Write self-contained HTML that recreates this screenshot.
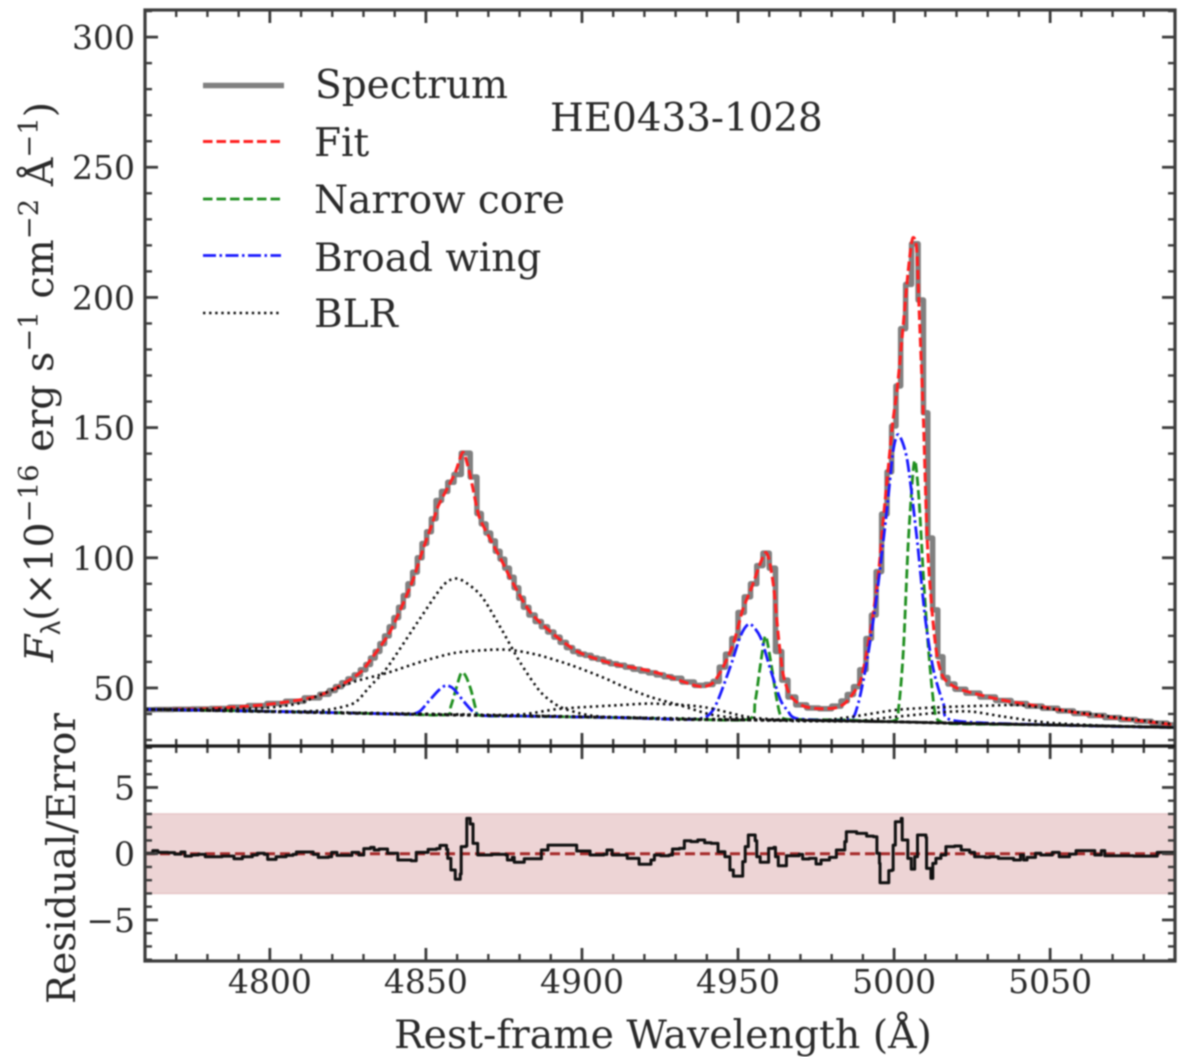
<!DOCTYPE html>
<html>
<head>
<meta charset="utf-8">
<title>HE0433-1028 spectrum</title>
<style>
html,body{margin:0;padding:0;background:#fff;}
svg{display:block;filter:blur(0.75px);}
text{font-family:"DejaVu Serif","Liberation Serif",serif;fill:#2a2a2a;}
</style>
</head>
<body>
<svg id="chart" xmlns="http://www.w3.org/2000/svg" width="1200" height="1057" viewBox="0 0 1200 1057">
  <defs>
    <clipPath id="clip-top"><rect x="145" y="10" width="1030" height="736"/></clipPath>
    <clipPath id="clip-bottom"><rect x="145" y="746" width="1030" height="215"/></clipPath>
  </defs>
  <rect x="0" y="0" width="1200" height="1057" fill="#fff"/>
  <rect id="band" fill="#edd4d5" stroke="#e6c6c7" stroke-width="1.5"/>
  <line id="zero-line" stroke="#a52a2a" stroke-width="3" stroke-dasharray="10 5"/>
  <g id="top-series" clip-path="url(#clip-top)"></g>
  <g id="bottom-series" clip-path="url(#clip-bottom)"></g>
  <g id="axes"></g>

  <g>
    <line x1="203" y1="85.500" x2="284" y2="85.500" stroke="#808080" stroke-width="5.500"/>
    <line x1="203" y1="141.500" x2="281" y2="141.500" stroke="#ff2020" stroke-width="3" stroke-dasharray="9.500 4"/>
    <line x1="203" y1="199" x2="281" y2="199" stroke="#1f8f1f" stroke-width="2.800" stroke-dasharray="9.500 4"/>
    <line x1="203" y1="255.500" x2="281" y2="255.500" stroke="#1a1aff" stroke-width="2.800" stroke-dasharray="13 3.500 2.500 3.500"/>
    <line x1="203" y1="313" x2="281" y2="313" stroke="#111" stroke-width="2.600" stroke-dasharray="2.400 3.700"/>
    <text x="315" y="98" font-size="39">Spectrum</text>
    <text x="314" y="156" font-size="39">Fit</text>
    <text x="314" y="213" font-size="39">Narrow core</text>
    <text x="314" y="271" font-size="39">Broad wing</text>
    <text x="314" y="327" font-size="39">BLR</text>
  </g>
  <text x="550" y="131" font-size="38.800">HE0433-1028</text>
  <text x="394" y="1048" font-size="39.400">Rest-frame Wavelength (Å)</text>
  <text transform="translate(75,1004) rotate(-90)" font-size="38.900">Residual/Error</text>
  <text transform="translate(53,662) rotate(-90)" font-size="39.400"><tspan font-style="italic">F</tspan><tspan font-size="27.500" dy="7" font-family="Liberation Sans, sans-serif">λ</tspan><tspan dy="-7">(×10</tspan><tspan font-size="27.500" dy="-15">−16</tspan><tspan dy="15"> erg s</tspan><tspan font-size="27.500" dy="-15">−1</tspan><tspan dy="15"> cm</tspan><tspan font-size="27.500" dy="-15">−2</tspan><tspan dy="15"> Å</tspan><tspan font-size="27.500" dy="-15">−1</tspan><tspan dy="15">)</tspan></text>
</svg>

<script>
// ---- Data ----
const xTicks = [4800, 4850, 4900, 4950, 5000, 5050];
const fluxTicks = [50, 100, 150, 200, 250, 300];
const residualTicks = [-5, 0, 5];

const spectrumWave = [
  4760,4766,4772,4778,4784,4790,4796,4802,4808,4814,
  4818,4820,4822,4824,4826,4828,4830,4831.5,4833,4834.5,
  4836,4837.5,4839,4840.5,4842,4843.5,4845,4846.5,4848,4849.5,
  4851,4852.5,4854,4856,4858,4860,4862.7,4865.7,4867,4868.5,
  4870,4871.5,4873,4874.5,4876,4877.5,4879,4880.5,4882,4884,
  4886,4888,4890,4892,4894,4896,4898,4900,4902,4904,
  4906,4908,4910,4912.5,4915,4917.5,4920,4922.5,4925,4927.5,
  4930,4934,4938,4941,4943,4945,4947,4949,4951,4953,
  4955,4957,4959,4961,4963,4965,4967,4970,4974,4978,
  4982,4984,4986,4988,4990,4992,4993.5,4995,4997,4998.5,
  4999.9,5001.3,5002.9,5004.5,5006.7,5008.7,5010.1,5011.5,5013.2,5014.8,
  5016.5,5018,5021,5025,5030,5035,5040,5045,5050,5055,
  5060,5065,5070,5075,5080,5085,5090
];
const spectrumFlux = [
  41.6,41.7,41.8,41.9,42.1,42.6,43.2,44,44.9,46.2,
  47.6,49,50.5,52,53.5,55,57,59,61.5,64,
  67,70,73.5,77,81,85.5,90,94.5,100,105.5,
  110,115,122,125.5,129,132,140.2,131,117,113,
  109.5,106.5,102.5,99.5,96,92.5,88.5,84.5,81,78,
  75.5,73.5,71.5,69.5,67.5,65.5,64,63,62.5,61.5,
  61,60,59.3,58.7,58,57.2,56.5,55.8,55,54.3,
  53.7,52.3,51,51.3,52.5,58,63,69,79,85,
  90,97,101.8,96,64,53,46.5,43.5,42.3,42,
  43,45,47.5,50.5,57,69,78,94.7,116.8,133,
  150.6,166,188,205,220.6,199,155.7,107.6,80,62,
  54,51.5,49.5,48,46.5,45.2,44,43,42.2,41.2,
  40.2,39.4,38.6,37.9,37.2,36.5,35.8
];

const fitWave = [
  4760,4780,4798,4810,4816,4822,4829,4833,4838,4842,
  4846,4849,4852,4854,4857,4859.5,4861.8,4863.5,4865,4867,
  4870,4874,4878,4883.5,4891,4898.5,4905,4911,4920,4925,
  4931,4936,4939,4942,4945,4948.5,4951.5,4954.5,4957,4958.8,
  4960,4961.5,4963,4964.5,4966.8,4971,4976.4,4981.8,4985,4989,
  4990.8,4993,4995,4996.5,4999.4,5001,5002.6,5004.5,5005.9,5007.2,
  5008,5009.4,5010.6,5012.2,5013.8,5015.8,5020,5027,5034,5042,
  5050,5060,5070,5080,5090
];
const fitFlux = [
  41.7,42,43.5,45.5,47.2,50.5,56,62,70.5,80.5,
  92,103,113,120,127,133,140.5,135,127,116,
  108.5,99.5,90,79,70.5,64,61,59,57,55.5,
  53,51,50.5,52,57.5,67,80,89,97.5,102,
  99,88,69,55,47,43,42,42.5,45,52,
  61,76,94,114,150,165,185,210,222.6,219,
  196,153,107,79,62,54,50,47.5,45.5,43.8,
  42.2,40.2,38.6,37.2,35.8
];

const narrowWave = [4760,4800,4840,4856.5,4858,4859.5,4861,4861.8,4863,4864.5,4866,4867.5,4880,4912,4935,4953.4,4955.5,4957.3,4958.8,4960.5,4962.5,4964.2,4970,4985,4999.7,5001.5,5003,5004.5,5006,5006.8,5008,5009.4,5011,5013,5015,5020,5050,5090];
const narrowFlux = [41.8,41,40,39.7,43,49,55,56,54,49,42,39.4,39.2,38.6,38,38,45,60,70,60,45,38.5,37.9,37.7,37.3,43,65,105,132,137,122,93,65,41,37,36.2,35.8,34.8];

const wingWave = [4760,4800,4840,4845,4848,4851,4854,4856.5,4859,4862,4865,4868,4880,4912,4935.7,4942,4947.6,4950.8,4953.7,4957.2,4960.4,4963.6,4965.8,4969,4985,4988.2,4991.4,4994.6,4997.8,4999.7,5001.4,5004.2,5007.3,5010,5012.6,5015.8,5019,5050,5090];
const wingFlux = [41.8,41,40,39.9,41,45,49,51,49.5,45,41,39.4,39.2,38.6,38,41.5,58.4,70,74.6,69.4,57,45.4,41.5,38.2,37.7,42.7,61,86.9,119.6,141,147.3,137.6,107.6,76.5,57,44,37.5,35.8,34.8];

const blrCoreWave = [4760,4790,4810,4818.6,4827,4832,4837.7,4848.3,4855.7,4860.5,4867.5,4874,4880.3,4886.7,4893,4901.8,4912,4940,4970,5000,5050,5090];
const blrCoreFlux = [41.8,41.2,41,41.6,44.2,50.5,58,77,89.6,91.9,85.7,73,59.6,48.5,42.7,39.6,38.6,37.9,37.3,37,35.8,34.8];

const blrBroadWave = [4760,4780,4798,4809,4816,4827,4837.7,4848.3,4859,4870,4877,4885.8,4896.4,4907,4912.3,4922,4931.6,4942,4955,4970,5000,5050,5090];
const blrBroadFlux = [41.8,41.9,42.3,44,47.3,52.4,55.8,60,63.4,64.6,64.6,62.7,58.8,53.9,51,46.5,43.3,39.6,38,37.5,37,35.8,34.8];

const blrHumpWave = [4760,4860,4880,4893,4912,4922,4935,4942,4953,4965,5000,5050,5090];
const blrHumpFlux = [41.8,39.8,39.8,42,43.4,44,43.2,42,38.9,37.8,37,35.8,34.8];

const blrUpperWave = [4760,4900,4970,4985,5001,5017,5030,5040,5050,5070,5090];
const blrUpperFlux = [41.8,39,37.5,38.7,41.6,42.7,43.2,43.4,42,38.9,36];

const blrLowerWave = [4760,4900,4980,5000,5017,5025,5035,5050,5070,5090];
const blrLowerFlux = [41.8,39,37.2,38.9,40.8,40.9,39,36.6,35.4,34.9];

const continuumWave = [4760,4840,4912,4932,4970,5000,5020,5050,5090];
const continuumFlux = [41.8,40,38.6,37.9,37.6,37,36.4,35.8,34.8];

const residualWave = [
  4760.3,4762.5,4764.1,4767.4,4769.5,4771.5,4772.8,4774.9,4777.1,4779.3,
  4781.4,4784.7,4788.5,4791.2,4794.4,4796,4798.2,4799.3,4802,4805.2,
  4807.4,4808.5,4811.7,4813.9,4815.5,4818.8,4819.8,4821.5,4824.7,4826.3,
  4828.5,4830.1,4832.3,4833.4,4835,4837.7,4841,4845.3,4846.9,4850.7,
  4853.4,4854.5,4856.6,4857,4858,4859.4,4861,4861.3,4862.8,4863.1,
  4864.2,4865.1,4866.2,4866.6,4871.2,4875.6,4876.1,4877.7,4878.3,4881,
  4881.5,4884.8,4887,4889.1,4892.9,4898.3,4902.6,4907,4908,4909.7,
  4914.5,4918.3,4922.1,4923.2,4925.2,4927.9,4929,4931.2,4932.8,4934.9,
  4937.1,4939.3,4941.4,4943.6,4945.8,4947.4,4948.5,4950.8,4951.5,4952.3,
  4953.3,4954.4,4955.5,4956,4957.1,4959.6,4959.8,4961.5,4962,4962.9,
  4964.4,4965.5,4969.6,4970.7,4972.8,4975,4976.6,4979.3,4981.5,4984.2,
  4984.7,4986.9,4988,4990.1,4991.2,4993.4,4994.5,4995.3,4995.5,4997.9,
  4998.3,4999.3,4999.7,5000.4,5002.3,5002.6,5004,5004.4,5005.5,5005.5,
  5006.4,5006.6,5007.5,5010.2,5010.4,5011.8,5011.8,5012.4,5013.4,5015,
  5016.6,5019.4,5021.5,5024.2,5025.8,5029.1,5030.7,5033.4,5036.7,5038.3,
  5040.5,5041.5,5042.6,5045.3,5047,5050.7,5052.9,5056.2,5058.3,5063.2,
  5064.3,5066.4,5067.5,5076.7,5084.3,5089.7
];
const residualValue = [
  .03,.23,.10,.08,-.03,.13,-.18,-.10,-.05,-.23,
  -.23,-.18,-.38,-.23,-.10,.03,-.05,-.43,-.23,-.13,
  -.05,.13,.13,-.05,-.28,-.23,.10,-.13,-.13,.10,
  -.10,.38,.48,.28,.35,.03,-.48,-.53,.10,.33,
  .38,.63,.33,-.35,-1.23,-1.93,-1.53,.53,.58,2.67,
  2.24,.78,.78,-.10,-.05,-.10,-.48,-.28,-.65,-.65,
  -.38,-.38,.28,.65,.65,.20,-.10,-.05,.28,-.10,
  -.35,-.80,-.48,-.10,-.15,-.10,.35,.40,.98,.91,
  1.03,.83,.78,.15,-.23,-1.23,-1.69,-1.69,-.60,.53,
  1.41,1.41,.98,-.23,-.65,-.65,.40,.48,-.23,-.91,
  -.91,-.15,-.05,-.40,-.35,-.78,-.48,-.28,.28,.91,
  1.66,1.66,1.53,1.53,1.33,1.28,.03,-.73,-2.19,-2.19,
  -1.28,-1.23,.65,2.41,2.67,1.03,1.03,-.35,-.35,-1.16,
  -1.16,-.23,1.41,1.23,-1.11,-1.23,-1.86,-.73,-.35,-.10,
  .53,.58,.28,.10,-.23,-.28,-.23,-.35,-.35,-.48,
  -.10,-.48,-.28,.03,-.10,.10,-.23,-.03,.23,.23,
  -.10,.23,-.15,-.18,.10,.03
];
const bandLimit = 3;

// ---- Axis functions ----
const NS = 'http://www.w3.org/2000/svg';
const xMin = 4760, xMax = 5090;
const plotLeft = 145, plotRight = 1175;
const topTop = 10, topBottom = 746, bottomBottom = 961;
const fluxMin = 27.7, fluxMax = 310.4;
const resMin = -8.1, resMax = 8.13;
function sx(w) { return plotLeft + (w - xMin) / (xMax - xMin) * (plotRight - plotLeft); }
function sy(v) { return topBottom - (v - fluxMin) / (fluxMax - fluxMin) * (topBottom - topTop); }
function ry(v) { return bottomBottom - (v - resMin) / (resMax - resMin) * (bottomBottom - topBottom); }

function smoothPath(ws, vs) {
  const p = ws.map((w, i) => [sx(w), sy(vs[i])]);
  let d = 'M' + p[0][0].toFixed(2) + ' ' + p[0][1].toFixed(2);
  for (let i = 0; i < p.length - 1; i++) {
    const a = p[Math.max(i - 1, 0)], b = p[i], c = p[i + 1], e = p[Math.min(i + 2, p.length - 1)];
    const k = 0.13;
    d += 'C' + (b[0] + (c[0] - a[0]) * k).toFixed(2) + ' ' + (b[1] + (c[1] - a[1]) * k).toFixed(2) + ' ' +
         (c[0] - (e[0] - b[0]) * k).toFixed(2) + ' ' + (c[1] - (e[1] - b[1]) * k).toFixed(2) + ' ' +
         c[0].toFixed(2) + ' ' + c[1].toFixed(2);
  }
  return d;
}
function midStepPath(ws, vs) {
  let d = 'M' + sx(ws[0]).toFixed(2) + ' ' + sy(vs[0]).toFixed(2);
  for (let i = 1; i < ws.length; i++) {
    const m = sx((ws[i - 1] + ws[i]) / 2).toFixed(2);
    d += 'L' + m + ' ' + sy(vs[i - 1]).toFixed(2) + 'L' + m + ' ' + sy(vs[i]).toFixed(2);
  }
  d += 'L' + sx(ws[ws.length - 1]).toFixed(2) + ' ' + sy(vs[vs.length - 1]).toFixed(2);
  return d;
}
function stepPath(ws, vs) {
  let d = 'M' + sx(ws[0]).toFixed(2) + ' ' + ry(vs[0]).toFixed(2);
  for (let i = 1; i < ws.length; i++) {
    d += 'L' + sx(ws[i]).toFixed(2) + ' ' + ry(vs[i - 1]).toFixed(2) + 'L' + sx(ws[i]).toFixed(2) + ' ' + ry(vs[i]).toFixed(2);
  }
  return d;
}
function makePath(parent, d, stroke, width, dash) {
  const el = document.createElementNS(NS, 'path');
  el.setAttribute('d', d);
  el.setAttribute('fill', 'none');
  el.setAttribute('stroke', stroke);
  el.setAttribute('stroke-width', width);
  el.setAttribute('stroke-linejoin', 'round');
  if (dash) el.setAttribute('stroke-dasharray', dash);
  parent.appendChild(el);
  return el;
}
function makeLine(parent, x1, y1, x2, y2, stroke, width) {
  const el = document.createElementNS(NS, 'line');
  el.setAttribute('x1', x1);
  el.setAttribute('y1', y1);
  el.setAttribute('x2', x2);
  el.setAttribute('y2', y2);
  el.setAttribute('stroke', stroke);
  el.setAttribute('stroke-width', width);
  parent.appendChild(el);
  return el;
}
function makeText(parent, x, y, str, anchor) {
  const el = document.createElementNS(NS, 'text');
  el.setAttribute('x', x);
  el.setAttribute('y', y);
  el.setAttribute('font-size', '33');
  el.setAttribute('text-anchor', anchor);
  el.textContent = str;
  parent.appendChild(el);
  return el;
}

// ---- Band and zero line ----
const band = document.getElementById('band');
band.setAttribute('x', plotLeft);
band.setAttribute('width', plotRight - plotLeft);
band.setAttribute('y', ry(bandLimit));
band.setAttribute('height', ry(-bandLimit) - ry(bandLimit));
const zeroLine = document.getElementById('zero-line');
zeroLine.setAttribute('x1', plotLeft);
zeroLine.setAttribute('x2', plotRight);
zeroLine.setAttribute('y1', ry(0));
zeroLine.setAttribute('y2', ry(0));

// ---- Series ----
const topG = document.getElementById('top-series');
const botG = document.getElementById('bottom-series');

const spectrumLine = makePath(topG, midStepPath(spectrumWave, spectrumFlux), '#808080', 5.5);


const fitLine = makePath(topG, smoothPath(fitWave, fitFlux), '#ff2020', 3, '9.5 4');


const narrowLine = makePath(topG, smoothPath(narrowWave, narrowFlux), '#1f8f1f', 2.8, '9.5 4');


const wingLine = makePath(topG, smoothPath(wingWave, wingFlux), '#1a1aff', 2.8, '13 3.5 2.5 3.5');


const continuumDots = makePath(topG, smoothPath(continuumWave, continuumFlux), '#111', 3, '3.5 3.5');


const continuumSolid = makePath(topG, smoothPath(continuumWave.slice(4), continuumFlux.slice(4)), '#111', 2.4);


const blrCoreLine = makePath(topG, smoothPath(blrCoreWave, blrCoreFlux), '#111', 2.6, '2.4 3.7');


const blrBroadLine = makePath(topG, smoothPath(blrBroadWave, blrBroadFlux), '#111', 2.6, '2.4 3.7');


const blrHumpLine = makePath(topG, smoothPath(blrHumpWave, blrHumpFlux), '#111', 2.6, '2.4 3.7');


const blrUpperLine = makePath(topG, smoothPath(blrUpperWave, blrUpperFlux), '#111', 2.6, '2.4 3.7');


const blrLowerLine = makePath(topG, smoothPath(blrLowerWave, blrLowerFlux), '#111', 2.6, '2.4 3.7');



const residualLine = makePath(botG, stepPath(residualWave, residualValue), '#111', 3);



// ---- Axes: ticks, spines, labels ----
const axes = document.getElementById('axes');
const spineColor = '#3c3c3c';
const major = 13, minor = 7;

for (const panel of [[topTop, topBottom], [topBottom, bottomBottom]]) {
  for (let w = xMin; w <= xMax; w += 10) {
    if (w === xMin || w === xMax) continue;
    const isMajor = xTicks.includes(w);
    const len = isMajor ? major : minor;
    const t1 = makeLine(axes, sx(w), panel[0], sx(w), panel[0] + len, spineColor, isMajor ? 2.8 : 2.4);
    
    
    const t2 = makeLine(axes, sx(w), panel[1], sx(w), panel[1] - len, spineColor, isMajor ? 2.8 : 2.4);
    
    
  }
}
for (let v = 30; v <= 310; v += 10) {
  const isMajor = fluxTicks.includes(v);
  const len = isMajor ? major : minor;
  const t1 = makeLine(axes, plotLeft, sy(v), plotLeft + len, sy(v), spineColor, isMajor ? 2.8 : 2.4);
  
  
  const t2 = makeLine(axes, plotRight, sy(v), plotRight - len, sy(v), spineColor, isMajor ? 2.8 : 2.4);
  
  
}
for (let v = -8; v <= 8; v += 1) {
  const isMajor = residualTicks.includes(v);
  const len = isMajor ? major : minor;
  const t1 = makeLine(axes, plotLeft, ry(v), plotLeft + len, ry(v), spineColor, isMajor ? 2.8 : 2.4);
  
  
  const t2 = makeLine(axes, plotRight, ry(v), plotRight - len, ry(v), spineColor, isMajor ? 2.8 : 2.4);
  
  
}

const frameTop = document.createElementNS(NS, 'rect');
frameTop.setAttribute('x', plotLeft);
frameTop.setAttribute('y', topTop);
frameTop.setAttribute('width', plotRight - plotLeft);
frameTop.setAttribute('height', bottomBottom - topTop);
frameTop.setAttribute('fill', 'none');
frameTop.setAttribute('stroke', spineColor);
frameTop.setAttribute('stroke-width', '3.2');


axes.appendChild(frameTop);

const divider = makeLine(axes, plotLeft, topBottom, plotRight, topBottom, '#1c1c1c', 3.2);



for (const w of xTicks) {
  const lab = makeText(axes, sx(w), 993, String(w), 'middle');
  
  
}
for (const v of fluxTicks) {
  const lab = makeText(axes, 135, sy(v) + 12, String(v), 'end');
  
  
}
for (const v of residualTicks) {
  const lab = makeText(axes, 135, ry(v) + 12, String(v).replace('-', '\u2212'), 'end');
  
  
}
</script>
</body>
</html>
